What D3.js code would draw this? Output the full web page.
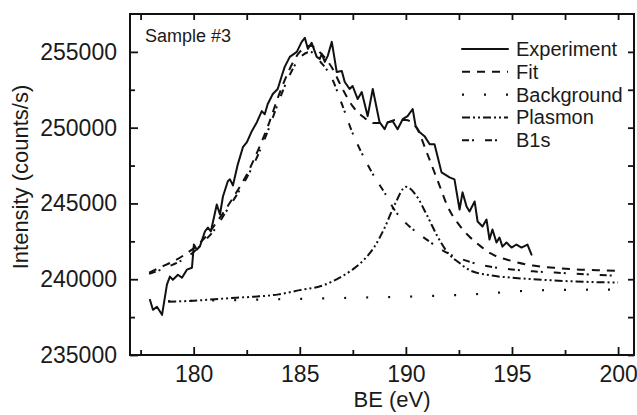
<!DOCTYPE html>
<html>
<head>
<meta charset="utf-8">
<script src="https://cdn.jsdelivr.net/npm/d3@7"></script>
<style>
  body { margin: 0; background: #fff; }
  svg { display: block; font-family: "Liberation Sans", Arial, sans-serif; }
</style>
</head>
<body>
<svg id="chart" width="637" height="415"></svg>
<script>
// measured spectrum, BE (eV) and intensity (counts/s)
let expBE = [177.94, 178.08, 178.27, 178.51, 178.74, 178.88, 179.02, 179.26, 179.45, 179.68,
  179.92, 180.01, 180.15, 180.29, 180.53, 180.67, 180.81, 181.09, 181.24, 181.38,
  181.61, 181.71, 181.85, 182.08, 182.32, 182.51, 182.74, 182.98, 183.21, 183.35,
  183.49, 183.73, 183.96, 184.15, 184.29, 184.53, 184.86, 185.09, 185.24, 185.38,
  185.56, 185.80, 185.94, 186.04, 186.18, 186.32, 186.51, 186.74, 186.98, 187.12,
  187.35, 187.49, 187.73, 187.92, 188.20, 188.44, 188.76, 189.00, 189.14, 189.38,
  189.61, 189.85, 190.08, 190.32, 190.46, 190.65, 190.88, 191.12, 191.35, 191.68,
  192.06, 192.29, 192.53, 192.67, 192.86, 193.00, 193.24, 193.38, 193.61, 193.80,
  193.94, 194.08, 194.27, 194.41, 194.55, 194.74, 194.98, 195.21, 195.45, 195.73, 195.92]
let expI = [238640, 237980, 238180, 237650, 239640, 240170, 239970, 240300, 240100, 240630,
  240760, 242290, 241950, 242150, 243150, 243410, 243150, 244930, 244270, 245460,
  246460, 246590, 246190, 247580, 248710, 249040, 249770, 250360, 251090, 250890,
  251560, 252220, 252550, 253410, 254010, 254670, 255000, 255660, 255930, 255200,
  255600, 254670, 254540, 254870, 254340, 254740, 255660, 253680, 253740, 253010,
  252550, 252750, 251890, 252350, 250760, 252550, 250360, 249900, 250360, 250430,
  249900, 250560, 250760, 251230, 250100, 249700, 249440, 248910, 248910, 247050,
  246720, 246590, 244600, 245730, 244800, 244470, 245130, 243810, 243480, 243940,
  242620, 243280, 242420, 242750, 242150, 242420, 242090, 242290, 242090, 242290, 241620]

let fitBE = [177.9, 178.5, 179, 179.5, 180, 180.5, 181, 181.5, 182, 182.5, 183, 183.5, 184, 184.5,
  185, 185.5, 186, 186.5, 187, 187.5, 188, 188.5, 189, 189.5, 190, 190.5, 191, 191.5, 192,
  192.5, 193, 193.5, 194, 195, 196, 197, 198, 199, 200]
let fitI = [240430, 240830, 241150, 241550, 242050, 242700, 243600, 244600, 245700, 246900,
  248400, 250100, 252100, 253800, 255000, 255400, 254900, 254000, 252600, 251400, 250700,
  250300, 250300, 250500, 250500, 250000, 248300, 246500, 244700, 243600, 242800, 242200,
  241700, 241200, 240900, 240750, 240650, 240600, 240550]

let bgBE = [178.8, 180, 182, 184, 186, 188, 190, 192, 193, 194, 195, 196, 198, 200]
let bgI = [238560, 238580, 238620, 238680, 238730, 238790, 238850, 238930, 238990, 239080,
  239180, 239260, 239300, 239320]

let plasBE = [178.8, 180, 181, 182, 183, 184, 185, 186, 187, 187.5, 188, 188.5, 189, 189.5,
  190, 190.5, 191, 191.5, 192, 192.5, 193, 194, 195, 196, 198, 200]
let plasI = [238520, 238580, 238680, 238780, 238860, 239000, 239280, 239550, 240200, 240650,
  241250, 242100, 243400, 245000, 246100, 245500, 244200, 242800, 241700, 241100, 240600,
  240250, 240100, 240000, 239850, 239780]

let b1sBE = [177.9, 178.5, 179, 179.5, 180, 180.5, 181, 181.5, 182, 182.5, 183, 183.5, 184, 184.5,
  185, 185.5, 186, 186.5, 187, 187.5, 188, 188.5, 189, 189.5, 190, 190.5, 191, 191.5, 192,
  193, 194, 195, 196, 197, 198, 199, 200]
let b1sI = [240350, 240650, 240950, 241300, 241800, 242500, 243300, 244400, 245500, 246700,
  248100, 249800, 251700, 253400, 254600, 255000, 254300, 253300, 251500, 249600, 248100,
  246800, 245700, 244500, 243700, 243100, 242600, 242100, 241700, 241150, 240820, 240640,
  240520, 240440, 240360, 240290, 240230]

let xTicks = [180, 185, 190, 195, 200]
let xMinor = [177.5, 182.5, 187.5, 192.5, 197.5]
let yTicks = [235000, 240000, 245000, 250000, 255000]
let yMinor = [237500, 242500, 247500, 252500]

let legendNames = ['Experiment', 'Fit', 'Background', 'Plasmon', 'B1s']

let plotL = 130, plotR = 634, plotT = 14, plotB = 355
let svg = d3.select('#chart')

let x = d3.scaleLinear().domain([177, 200.75]).range([plotL, plotR])
let y = d3.scaleLinear().domain([235000, 257500]).range([plotB, plotT])

// one style per series: dash pattern and width
let styles = {
  'Experiment': { dash: null, width: 2, cap: 'round' },
  'Fit': { dash: '8,7', width: 2, cap: 'butt' },
  'Background': { dash: '2,20', width: 2.2, cap: 'butt' },
  'Plasmon': { dash: '8,3,2,3,2,3', width: 2, cap: 'butt' },
  'B1s': { dash: '7,3,2,11', width: 2, cap: 'butt' }
}

function zipSeries (xs, ys) {
  return xs.map((v, i) => [v, ys[i]])
}

let series = [
  { name: 'Background', data: zipSeries(bgBE, bgI), curve: d3.curveMonotoneX },
  { name: 'Plasmon', data: zipSeries(plasBE, plasI), curve: d3.curveMonotoneX },
  { name: 'B1s', data: zipSeries(b1sBE, b1sI), curve: d3.curveMonotoneX },
  { name: 'Fit', data: zipSeries(fitBE, fitI), curve: d3.curveMonotoneX },
  { name: 'Experiment', data: zipSeries(expBE, expI), curve: d3.curveLinear }
]

/*** axes ***/
function styleAxis (g, size) {
  g.select('.domain').remove()
  g.selectAll('line').attr('stroke', '#111').attr('stroke-width', 1.8)
  g.selectAll('text').attr('font-size', size).attr('fill', '#1a1a1a')
    .attr('font-family', '"Liberation Sans", Arial, sans-serif')
}

svg.append('g').attr('transform', `translate(0,${plotB})`)
  .call(d3.axisBottom(x).tickValues(xTicks).tickSize(-8).tickPadding(11).tickFormat(d3.format('d')))
  .call(g => styleAxis(g, 23))
svg.append('g').attr('transform', `translate(0,${plotB})`)
  .call(d3.axisBottom(x).tickValues(xMinor).tickSize(-5).tickFormat(''))
  .call(g => styleAxis(g, 23))
svg.append('g').attr('transform', `translate(0,${plotT})`)
  .call(d3.axisTop(x).tickValues(xTicks.concat(xMinor)).tickSize(-6).tickFormat(''))
  .call(g => styleAxis(g, 23))

svg.append('g').attr('transform', `translate(${plotL},0)`)
  .call(d3.axisLeft(y).tickValues(yTicks).tickSize(-8).tickPadding(13).tickFormat(d3.format('d')))
  .call(g => styleAxis(g, 23))
svg.append('g').attr('transform', `translate(${plotL},0)`)
  .call(d3.axisLeft(y).tickValues(yMinor).tickSize(-5).tickFormat(''))
  .call(g => styleAxis(g, 23))
svg.append('g').attr('transform', `translate(${plotR},0)`)
  .call(d3.axisRight(y).tickValues(yTicks.concat(yMinor)).tickSize(-6).tickFormat(''))
  .call(g => styleAxis(g, 23))

svg.append('rect')
  .attr('x', plotL).attr('y', plotT)
  .attr('width', plotR - plotL).attr('height', plotB - plotT)
  .attr('fill', 'none').attr('stroke', '#111').attr('stroke-width', 2)

/*** curves ***/
let plot = svg.append('g').attr('id', 'curves')
series.forEach(s => {
  let st = styles[s.name]
  let line = d3.line().x(d => x(d[0])).y(d => y(d[1])).curve(s.curve)
  plot.append('path')
    .datum(s.data)
    .attr('d', line)
    .attr('fill', 'none')
    .attr('stroke', '#111')
    .attr('stroke-width', st.width)
    .attr('stroke-linecap', st.cap)
    .attr('stroke-linejoin', 'round')
    .attr('stroke-dasharray', st.dash)
})

/*** labels ***/
svg.append('text')
  .attr('x', 392).attr('y', 407)
  .attr('text-anchor', 'middle')
  .attr('font-size', 22).attr('fill', '#1a1a1a')
  .text('BE (eV)')

svg.append('text')
  .attr('transform', 'translate(28,177) rotate(-90)')
  .attr('text-anchor', 'middle')
  .attr('font-size', 22).attr('fill', '#1a1a1a')
  .text('Intensity (counts/s)')

svg.append('text')
  .attr('x', 145).attr('y', 42)
  .attr('font-size', 18).attr('fill', '#1a1a1a')
  .text('Sample #3')

/*** legend ***/
let legend = svg.append('g').attr('id', 'legend')
let legendRows = legend.selectAll('.row')
  .data(legendNames)
  .enter()
  .append('g')
  .attr('class', 'row')
  .attr('transform', (d, i) => `translate(462,${49 + i * 22.8})`)

legendRows.append('line')
  .attr('x1', 0).attr('x2', 46).attr('y1', 0).attr('y2', 0)
  .attr('stroke', '#111')
  .attr('stroke-width', d => styles[d].width)
  .attr('stroke-linecap', d => styles[d].cap)
  .attr('stroke-dasharray', d => styles[d].dash)

legendRows.append('text')
  .attr('x', 54).attr('y', 7)
  .attr('font-size', 20).attr('fill', '#1a1a1a')
  .text(d => d)
</script>
</body>
</html>
